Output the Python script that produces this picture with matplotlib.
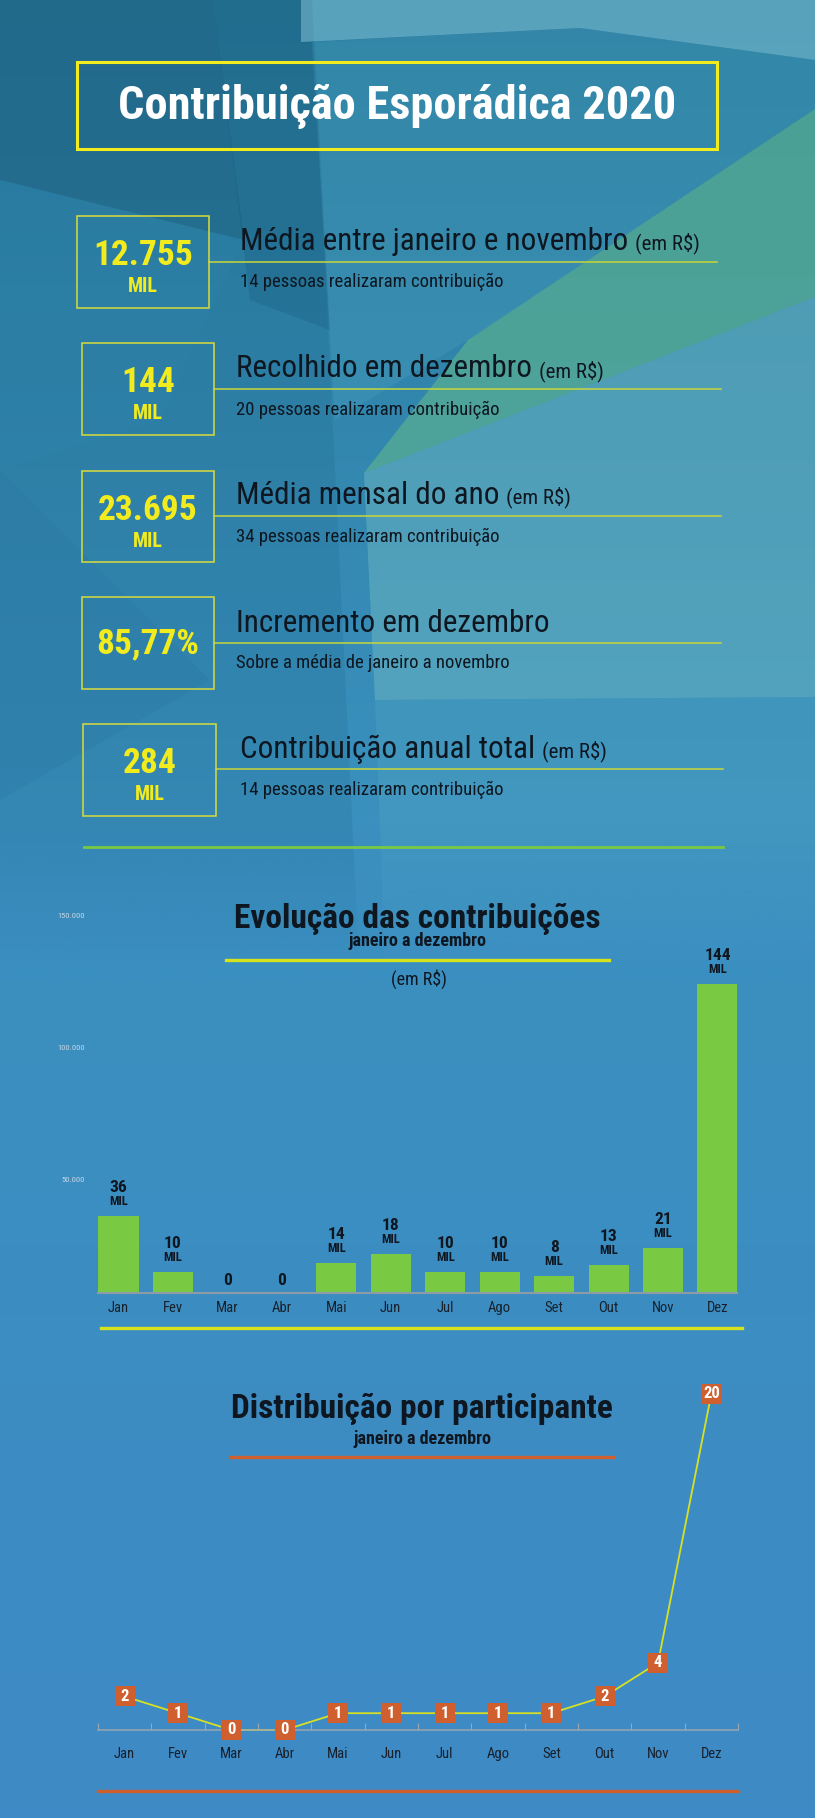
import numpy as np
import matplotlib.pyplot as plt
from matplotlib import font_manager
from matplotlib.patches import Rectangle, Polygon
from matplotlib.colors import LinearSegmentedColormap, to_rgb

# escolhe uma fonte estreita parecida com a original
fontes = font_manager.fontManager.ttflist
def tem(nome, larguras=None):
    return any(f.name == nome and (larguras is None or f.stretch in larguras) for f in fontes)

estreitas = ['condensed', 'semi-condensed', 'extra-condensed']
if tem('Liberation Sans Narrow'):
    FAMILIA, LARGURA = 'Liberation Sans Narrow', 'normal'
elif tem('Roboto Condensed'):
    FAMILIA, LARGURA = 'Roboto Condensed', 'normal'
elif tem('Noto Sans', estreitas):
    FAMILIA, LARGURA = 'Noto Sans', 'condensed'
elif tem('DejaVu Sans', estreitas):
    FAMILIA, LARGURA = 'DejaVu Sans', 'condensed'
else:
    FAMILIA, LARGURA = 'Roboto', 'normal'
plt.rcParams['font.family'] = [FAMILIA, 'DejaVu Sans']
plt.rcParams['font.stretch'] = LARGURA

#%% dados
titulo = 'Contribuição Esporádica 2020'

destaque_numeros = ['12.755', '144', '23.695', '85,77%', '284']
destaque_mil     = [True, True, True, False, True]
destaque_titulos = ['Média entre janeiro e novembro', 'Recolhido em dezembro',
                    'Média mensal do ano', 'Incremento em dezembro',
                    'Contribuição anual total']
destaque_em_rs   = [True, True, True, False, True]
destaque_sub     = ['14 pessoas realizaram contribuição',
                    '20 pessoas realizaram contribuição',
                    '34 pessoas realizaram contribuição',
                    'Sobre a média de janeiro a novembro',
                    '14 pessoas realizaram contribuição']

meses   = ['Jan', 'Fev', 'Mar', 'Abr', 'Mai', 'Jun', 'Jul', 'Ago', 'Set', 'Out', 'Nov', 'Dez']
valores = [36000, 10000, 0, 0, 14000, 18000, 10000, 10000, 8000, 13000, 21000, 144000]
eixo_y_rotulos = ['150.000', '100.000', '50.000']

participantes = [2, 1, 0, 0, 1, 1, 1, 1, 1, 2, 4, 20]

#%% cores
PRETO   = '#0e1620'
AMARELO = '#f2ec1e'
VERDE   = '#7ac943'
LARANJA = '#cf5f2e'
LINHA   = '#c9d63a'

W, H = 815, 1818
fig = plt.figure(figsize=(W/100, H/100), dpi=100)
renderer = fig.canvas.get_renderer()

def ajusta(texto, alvo, maximo, peso='normal'):
    # tamanho de fonte que da a largura 'alvo' (px), limitado pela altura
    t = fig.text(0, 0, texto, fontsize=20, fontweight=peso)
    w = t.get_window_extent(renderer).width
    t.remove()
    return min(20 * alvo / w, maximo)

fs_titulo = ajusta(titulo, 557, 34, 'bold')
fs_head   = ajusta(destaque_titulos[0], 387, 23)
fs_emrs   = ajusta('(em R$)', 65, 15)
fs_sub    = ajusta(destaque_sub[0], 294, 13.5)
fs_num    = ajusta('12.755', 100, 27, 'bold')
fs_mil    = ajusta('MIL', 30, 14.5, 'bold')
fs_t2     = ajusta('Evolução das contribuições', 377, 24, 'bold')
fs_s2     = ajusta('janeiro a dezembro', 148, 13, 'bold')
fs_emrs2  = ajusta('(em R$)', 57, 13)
fs_y      = ajusta('150.000', 27, 6)
fs_mes    = ajusta('Ago', 23, 10.5)
fs_val    = ajusta('144', 29, 12.5, 'bold')
fs_valmil = ajusta('MIL', 19, 9, 'bold')
fs_marc   = ajusta('20', 17, 12, 'bold')

bg = fig.add_axes([0, 0, 1, 1])
bg.set_xlim(0, W)
bg.set_ylim(H, 0)
bg.axis('off')

cmap = LinearSegmentedColormap.from_list('fundo', [(0, '#2a7c9e'), (0.45, '#3a91be'), (1, '#3e8ac6')])
bg.imshow(np.linspace(0, 1, 256).reshape(-1, 1), cmap=cmap, aspect='auto',
          extent=(0, W, H, 0), zorder=0)

# facetas do fundo
facetas = [
    ([(0, 0), (312, 0), (359, 960), (0, 960)], '#15597a', 0.16),
    ([(0, 0), (213, 0), (244, 240), (0, 180)], '#174f6c', 0.3),
    ([(213, 0), (312, 0), (330, 330), (250, 300)], '#12506e', 0.22),
    ([(301, 0), (815, 0), (815, 60), (580, 28), (301, 42)], '#93d2e2', 0.45),
    ([(312, 42), (580, 28), (815, 60), (815, 109), (468, 340), (335, 420)], '#4ea6c2', 0.25),
    ([(815, 109), (468, 340), (364, 473), (815, 297)], '#5db38f', 0.65),
    ([(364, 473), (815, 297), (815, 697), (375, 700)], '#74bcc4', 0.45),
    ([(375, 700), (815, 697), (815, 960), (385, 960)], '#54a8c4', 0.3),
    ([(0, 470), (210, 680), (0, 800)], '#2c78a6', 0.35),
    ([(0, 180), (244, 240), (160, 420), (0, 470)], '#2f84ad', 0.25),
]
for pts, cor, a in facetas:
    bg.add_patch(Polygon(pts, closed=True, fc=cor, ec='none', alpha=a, zorder=1))

# as facetas somem suavemente antes do grafico de barras
fade = np.zeros((256, 1, 4))
fade[:, 0, :3] = to_rgb('#3b8fc2')
fade[:, 0, 3] = np.clip(np.linspace(-0.4, 1.0, 256), 0, 1)
bg.imshow(fade, aspect='auto', extent=(0, W, 980, 760), zorder=2)

#%% titulo
bg.add_patch(Rectangle((77, 62), 640, 87, fill=False, ec=AMARELO, lw=2.2, zorder=3))
bg.text(397, 119, titulo, color='white', fontsize=fs_titulo, fontweight='bold',
        ha='center', va='baseline', zorder=4)

#%% destaques
caixas = [(77, 216, 209, 308), (82, 343, 214, 435), (82, 471, 214, 562),
          (82, 597, 214, 689), (83, 724, 216, 816)]
base_titulo = [250, 377, 504, 632, 758]
x_titulo    = [240, 236, 236, 236, 240]
y_linha     = [262, 389, 516, 643, 769]
x_fim_linha = [717, 721, 721, 721, 723]
base_sub    = [287, 415, 542, 668, 795]

for k in range(5):
    x0, y0, x1, y1 = caixas[k]
    bg.add_patch(Rectangle((x0, y0), x1-x0, y1-y0, fill=False, ec='#d9dc3a', lw=1.1, zorder=3))
    cx = (x0 + x1) / 2
    if destaque_mil[k]:
        bg.text(cx, y0 + 49, destaque_numeros[k], color=AMARELO, fontsize=fs_num,
                fontweight='bold', ha='center', va='baseline', zorder=4)
        bg.text(cx, y0 + 76, 'MIL', color=AMARELO, fontsize=fs_mil,
                fontweight='bold', ha='center', va='baseline', zorder=4)
    else:
        bg.text(cx, y0 + 56, destaque_numeros[k], color=AMARELO, fontsize=fs_num,
                fontweight='bold', ha='center', va='baseline', zorder=4)
    t = bg.text(x_titulo[k], base_titulo[k], destaque_titulos[k], color=PRETO,
                fontsize=fs_head, ha='left', va='baseline', zorder=4)
    if destaque_em_rs[k]:
        bg.annotate('(em R$)', xy=(1, 0), xycoords=t, xytext=(7, 1.5),
                    textcoords='offset pixels', color=PRETO, fontsize=fs_emrs,
                    ha='left', va='bottom', zorder=4)
    bg.plot([x1, x_fim_linha[k]], [y_linha[k]] * 2, color=LINHA, lw=1.1, zorder=3)
    bg.text(x_titulo[k], base_sub[k], destaque_sub[k], color=PRETO, fontsize=fs_sub,
            ha='left', va='baseline', zorder=4)

bg.plot([84, 723], [847, 847], color=VERDE, lw=2, zorder=3)

#%% evolucao das contribuicoes (barras)
bg.text(417, 928, 'Evolução das contribuições', color=PRETO, fontsize=fs_t2,
        fontweight='bold', ha='center', va='baseline', zorder=4)
bg.text(417, 946, 'janeiro a dezembro', color=PRETO, fontsize=fs_s2,
        fontweight='bold', ha='center', va='baseline', zorder=4)
bg.plot([226, 609], [960, 960], color='#d6e21e', lw=2.4, zorder=3)
bg.text(419, 985, '(em R$)', color=PRETO, fontsize=fs_emrs2, ha='center', va='baseline', zorder=4)
for rot, yy in zip(eixo_y_rotulos, [916, 1048, 1180]):
    bg.text(85, yy, rot, color='#c6d8e6', fontsize=fs_y, ha='right', va='center', zorder=4)

passo = 54.45
esq = 118.5 - passo / 2
ax1 = fig.add_axes([esq / W, (H - 1293) / H, 12 * passo / W, 365 / H])
ax1.patch.set_alpha(0)
x = np.arange(len(meses))
ax1.bar(x, valores, width=0.735, color=VERDE, zorder=2)
ax1.plot([-0.3675, 11.3675], [0, 0], color='#8e9aa6', lw=1.5, zorder=3, clip_on=False)
ax1.set_xlim(-0.5, 11.5)
ax1.set_ylim(0, 170000)
for s in ax1.spines.values():
    s.set_visible(False)
ax1.set_yticks([])
ax1.set_xticks(x, meses)
ax1.tick_params(axis='x', length=0, pad=6, labelsize=fs_mes, labelcolor='#18202c')
for i, v in enumerate(valores):
    if v > 0:
        ax1.annotate('MIL', xy=(i, v), xytext=(0, 11), textcoords='offset pixels',
                     ha='center', va='baseline', fontsize=fs_valmil, fontweight='bold', color=PRETO)
        ax1.annotate(str(int(v / 1000)), xy=(i, v), xytext=(0, 24), textcoords='offset pixels',
                     ha='center', va='baseline', fontsize=fs_val, fontweight='bold', color=PRETO)
    else:
        ax1.annotate(str(int(v / 1000)), xy=(i, v), xytext=(0, 8), textcoords='offset pixels',
                     ha='center', va='baseline', fontsize=fs_val, fontweight='bold', color=PRETO)

bg.plot([101, 742], [1328, 1328], color='#d6e21e', lw=2.4, zorder=3)

#%% distribuicao por participante (linha)
bg.text(422, 1418, 'Distribuição por participante', color=PRETO, fontsize=fs_t2,
        fontweight='bold', ha='center', va='baseline', zorder=4)
bg.text(422, 1444, 'janeiro a dezembro', color=PRETO, fontsize=fs_s2,
        fontweight='bold', ha='center', va='baseline', zorder=4)
bg.plot([230, 613], [1457, 1457], color=LARANJA, lw=2.4, zorder=3)

ax2 = fig.add_axes([98 / W, (H - 1730) / H, 640 / W, 369.6 / H])
ax2.patch.set_alpha(0)
ax2.plot(x, participantes, color='#d8e022', lw=1.3, zorder=2, clip_on=False)
ax2.scatter(x, participantes, marker='s', s=14.4 ** 2, color=LARANJA, zorder=3, clip_on=False,
            linewidths=0)
for i, p in enumerate(participantes):
    ax2.text(i, p, str(p), color='white', fontsize=fs_marc, fontweight='bold',
             ha='center', va='center', zorder=4, clip_on=False)
ax2.set_xlim(-0.5, 11.5)
ax2.set_ylim(0, 22)
for nome, s in ax2.spines.items():
    s.set_visible(nome == 'bottom')
ax2.spines['bottom'].set_color('#9aa6b0')
ax2.spines['bottom'].set_linewidth(1.1)
ax2.set_yticks([])
ax2.set_xticks(np.arange(-0.5, 12, 1))
ax2.set_xticklabels([])
ax2.set_xticks(x, minor=True)
ax2.set_xticklabels(meses, minor=True)
ax2.tick_params(axis='x', which='major', direction='in', length=5, width=0.8, color='#9aa6b0')
ax2.tick_params(axis='x', which='minor', length=0, pad=12, labelsize=fs_mes, labelcolor='#18202c')

bg.plot([98, 738], [1791, 1791], color=LARANJA, lw=2.4, zorder=3)

fig.savefig('out.png', dpi=100)
